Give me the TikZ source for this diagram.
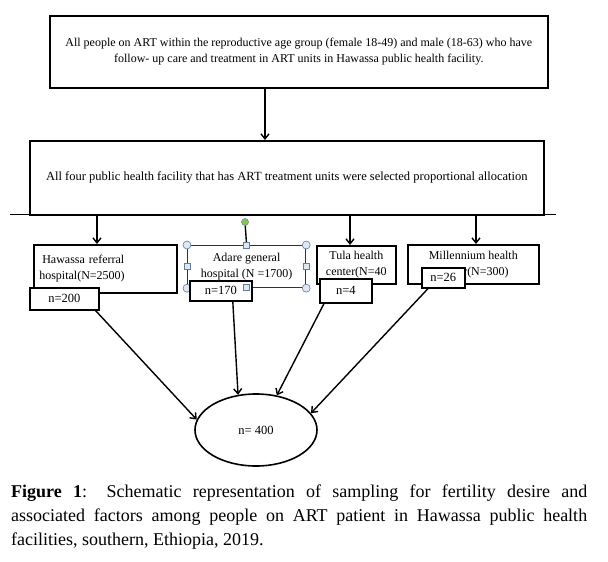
\documentclass[tikz,border=0pt]{standalone}
\usepackage{fontspec}
\setmainfont{Liberation Serif}
\usetikzlibrary{arrows.meta,positioning,shapes.geometric}
\definecolor{handleBlue}{RGB}{96,124,158}
\definecolor{handleFill}{RGB}{222,232,244}
\definecolor{handleGreen}{RGB}{132,200,80}
\definecolor{frameSlate}{RGB}{40,52,70}

\begin{document}
\begin{tikzpicture}[x=1pt, y=-1pt,
    every node/.style={font=\fontsize{12}{16}\selectfont},
    box/.style={draw, line width=1.6pt, fill=white, inner sep=3pt},
    nbox/.style={draw, line width=1.6pt, fill=white, inner sep=1pt, font=\fontsize{12.5}{14}\selectfont},
    arrow/.style={-{Straight Barb[length=5pt, width=8pt]}, line width=1.4pt},
    corner/.style={circle, draw=handleBlue, fill=handleFill, line width=0.6pt, inner sep=0pt, minimum size=8pt},
    side/.style={rectangle, draw=handleBlue, fill=handleFill, line width=0.6pt, inner sep=0pt, minimum size=6pt}]
    \useasboundingbox (0,0) rectangle (608,562);

    % population and facilities
    \node[box, anchor=north west, minimum width=498pt, minimum height=72pt, align=center] (population) at (49,15)
        {All people on ART within the reproductive age group (female 18-49) and male (18-63) who have\\follow- up care and treatment in ART units in Hawassa public health facility.};
    \node[box, anchor=north west, minimum width=514pt, minimum height=74pt, font=\fontsize{12.5}{16}\selectfont] (facilities) at (29,140)
        {All four public health facility that has ART treatment units were selected proportional allocation};
    \draw[arrow] (population.south -| 265,0) -- (facilities.north -| 265,0);
    \coordinate (ruleL) at (10,214);
    \coordinate (ruleR) at (556,214);
    \draw[line width=0.8pt] (ruleL) -- (ruleR);

    % the four facilities
    \node[box, anchor=north west, minimum width=143pt, minimum height=48pt, text width=132pt, align=left] (hawassa) at (33,244)
        {\hspace{3pt}Hawassa referral\\hospital(N=2500)};
    \node[box, draw=frameSlate, line width=1.2pt, anchor=north west, minimum width=118pt, minimum height=42pt, align=center] (adare) at (187,245)
        {Adare general\\hospital (N =1700)};
    \node[box, anchor=north west, minimum width=79pt, minimum height=38pt, align=center] (tula) at (316,245)
        {Tula health\\center(N=40};
    \node[box, anchor=north west, minimum width=131pt, minimum height=39pt, align=center] (millennium) at (407,244)
        {Millennium health\\center(N=300)};

    \draw[arrow] (facilities.south -| 97,0) -- (hawassa.north -| 97,0);
    \draw[arrow] (facilities.south -| 350,0) -- (tula.north -| 350,0);
    \draw[arrow] (facilities.south -| 476,0) -- (millennium.north -| 476,0);

    % selection handles on the Adare box
    \node[circle, draw=handleBlue, fill=handleGreen, line width=0.5pt, inner sep=0pt, minimum size=7pt] (rotate) at (245,222) {};
    \draw[line width=1.4pt] (rotate) -- (adare.north);
    \foreach \a in {north west, north east, south west, south east}
        \node[corner] at (adare.\a) {};
    \foreach \a in {north, west, east, south}
        \node[side] at (adare.\a) {};

    % sample sizes
    \node[nbox, anchor=north west, minimum width=69pt, minimum height=22pt] (n200) at (29,287) {n=200};
    \node[nbox, anchor=north west, minimum width=62pt, minimum height=20pt] (n170) at (189,280) {n=170};
    \node[side] at (246,287) {};
    \node[nbox, anchor=north west, minimum width=52pt, minimum height=24pt] (n4) at (319,278) {n=4};
    \node[nbox, anchor=north west, minimum width=43pt, minimum height=20pt] (n26) at (421,267) {n=26};

    % total sample
    \node[ellipse, draw, line width=1.6pt, minimum width=122pt, minimum height=72pt, font=\fontsize{12.5}{14}\selectfont] (total) at (256,430) {n= 400};
    \draw[arrow] ([xshift=-4pt]n200.south east) -- (total.170);
    \draw[arrow] ([xshift=12pt]n170.south) -- (total.117);
    \draw[arrow] ([xshift=5pt]n4.south west) -- (total.59);
    \draw[arrow] ([xshift=7pt]n26.south west) -- (total.17);

    % caption
    \node[anchor=north west, text width=576pt, align=justify, inner sep=0pt, font=\fontsize{18}{24}\selectfont] (caption) at (11,485)
        {\hyphenpenalty=10000 \textbf{Figure 1}: Schematic representation of sampling for fertility desire and\linebreak associated factors among people on ART patient in Hawassa public health\linebreak facilities, southern, Ethiopia, 2019.};
\end{tikzpicture}
\end{document}
